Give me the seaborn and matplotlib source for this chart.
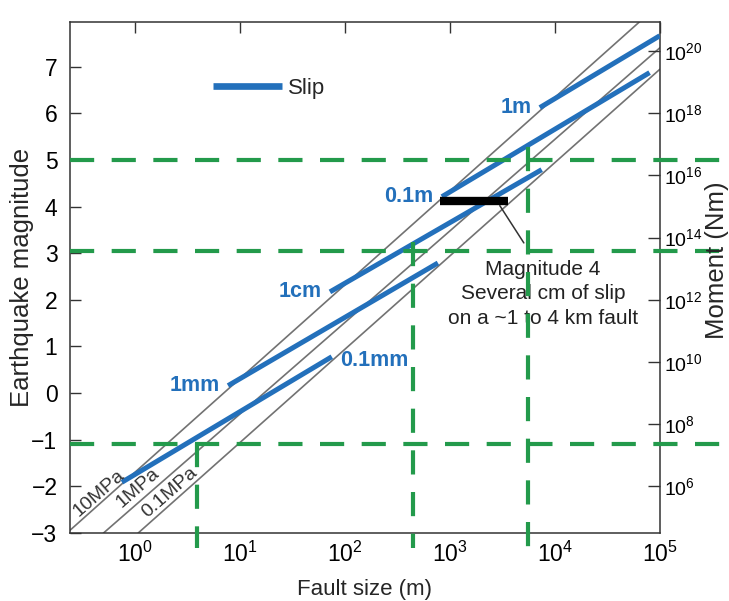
import matplotlib
matplotlib.use("Agg")
import matplotlib.pyplot as plt
import seaborn as sns
import numpy as np
import pandas as pd
from matplotlib.lines import Line2D

# stress-drop reference lines: (fault size m, magnitude) at both ends
stress_names = ["10MPa", "1MPa", "0.1MPa"]
stress_size = [[0.24, 65000], [0.50, 100000], [1.07, 100000]]
stress_mag = [[-2.94, 7.97], [-3.0, 7.40], [-3.0, 6.94]]

# constant-slip segments
slip_names = ["0.1mm", "1mm", "1cm", "0.1m", "1m"]
slip_size = [[0.75, 75], [7.7, 770], [72, 7500], [840, 80000], [7200, 100000]]
slip_mag = [[-1.91, 0.78], [0.16, 2.79], [2.17, 4.79], [4.21, 6.87], [6.12, 7.66]]

# green guide lines
guide_mag = [5.0, 3.05, -1.1]
guide_size = [3.9, 450, 5500]
guide_top = [-1.07, 3.24, 5.28]

# magnitude 4 example bar and its pointer
example_size = [800, 3560]
example_mag = [4.12, 4.12]
pointer_size = [2990, 5070]
pointer_mag = [4.02, 3.22]

moment_ticks = [1e6, 1e8, 1e10, 1e12, 1e14, 1e16, 1e18, 1e20]

blue = "#2370bb"
green = "#239a4b"
gray = "#727272"

sns.set_style("white")
plt.rcParams["font.family"] = ["Liberation Sans", "DejaVu Sans"]
plt.rcParams["mathtext.fontset"] = "custom"
plt.rcParams["mathtext.rm"] = "Liberation Sans"
plt.rcParams["mathtext.it"] = "Liberation Sans:italic"
plt.rcParams["mathtext.bf"] = "Liberation Sans:bold"

fig = plt.figure(figsize=(7.29, 6.01), dpi=100)
ax = fig.add_axes([0.096, 0.113, 0.809, 0.850])
ax.set_xscale("log")
ax.set_xlim(0.24, 1e5)
ax.set_ylim(-3, 7.95)

stress_df = pd.DataFrame({
    "size": sum(stress_size, []),
    "mag": sum(stress_mag, []),
    "name": np.repeat(stress_names, 2),
})
sns.lineplot(data=stress_df, x="size", y="mag", units="name", estimator=None,
             sort=False, color=gray, lw=1.2, ax=ax, legend=False, zorder=2)

slip_df = pd.DataFrame({
    "size": sum(slip_size, []),
    "mag": sum(slip_mag, []),
    "slip": np.repeat(slip_names, 2),
})
sns.lineplot(data=slip_df, x="size", y="mag", units="slip", estimator=None,
             sort=False, color=blue, lw=3.6, ax=ax, legend=False, zorder=3,
             solid_capstyle="butt")

# slip labels
for name, s, m in zip(slip_names, slip_size, slip_mag):
    if name == "0.1mm":
        ax.annotate(name, (s[1], m[1]), xytext=(6, -3), textcoords="offset points",
                    ha="left", va="center", color=blue, fontsize=15.5, fontweight="bold")
    else:
        ax.annotate(name, (s[0], m[0]), xytext=(-6, 0), textcoords="offset points",
                    ha="right", va="center", color=blue, fontsize=15.5, fontweight="bold")

# stress labels along the lines
stress_label_pos = [(0.45, -2.15), (1.07, -2.04), (2.15, -2.12)]
for name, (x, y) in zip(stress_names, stress_label_pos):
    ax.text(x, y, name, rotation=41, ha="center", va="center",
            rotation_mode="anchor", fontsize=14, color="#333333")

# green dashed guides
for m in guide_mag:
    ax.plot([0, 1.117], [m, m], transform=ax.get_yaxis_transform(), color=green,
            lw=3, dashes=(5.8, 4.2), clip_on=False, zorder=4)
for s, top in zip(guide_size, guide_top):
    ax.plot([s, s], [top, -3.32], color=green, lw=3, dashes=(5.8, 4.2),
            clip_on=False, zorder=4)

# magnitude 4 example
ax.plot(example_size, example_mag, color="black", lw=6, solid_capstyle="butt", zorder=5)
ax.plot(pointer_size, pointer_mag, color="#333333", lw=1.1, zorder=5)
ax.text(7700, 2.13, "Magnitude 4\nSeveral cm of slip\non a ~1 to 4 km fault",
        ha="center", va="center", fontsize=15, linespacing=1.35, color="#222222")

# legend
handle = Line2D([], [], color=blue, lw=4.8, solid_capstyle="butt")
ax.legend([handle], ["Slip"], loc="center left", bbox_to_anchor=(0.242, 0.871),
          frameon=False, fontsize=16, handlelength=3.1, handletextpad=0.3,
          borderpad=0, borderaxespad=0)

ax.set_yticks(range(-3, 8))
ax.set_yticklabels([str(v).replace("-", "\u2212") for v in range(-3, 8)])
ax.tick_params(axis="both", which="both", direction="in", labelsize=16.5,
               top=True, right=False, colors="#333333", labelcolor="black")
ax.tick_params(axis="y", which="major", length=8, width=1, pad=9)
ax.tick_params(axis="x", which="major", length=8, width=1, pad=6)
ax.tick_params(axis="x", which="minor", length=5, width=1)
ax.set_xlabel("Fault size (m)", fontsize=16, labelpad=9)
ax.set_ylabel("Earthquake magnitude", fontsize=18.5, labelpad=-2)
for sp in ax.spines.values():
    sp.set_color("#333333")
    sp.set_linewidth(1.1)

# moment axis on the right
ax2 = ax.twinx()
ax2.set_yscale("log")
ax2.set_ylim(10 ** (1.5 * 3), 10 ** (1.5 * 13.95))
ax2.set_yticks(moment_ticks)
ax2.minorticks_off()
ax2.tick_params(axis="y", direction="in", length=9, width=1, labelsize=14,
                pad=3, colors="#333333", labelcolor="black")
ax2.set_ylabel("Moment (Nm)", fontsize=18.5)
ax2.yaxis.set_label_coords(1.076, 0.534)
for sp in ax2.spines.values():
    sp.set_visible(False)

fig.savefig("out.png", dpi=100)
